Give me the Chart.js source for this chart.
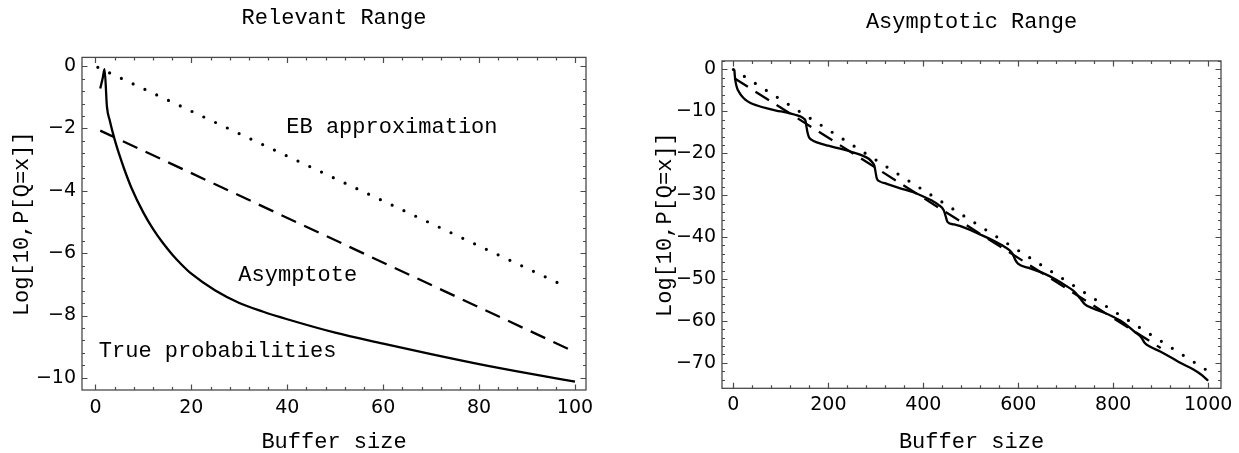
<!DOCTYPE html>
<html>
<head>
<meta charset="utf-8">
<script src="https://cdn.jsdelivr.net/npm/chart.js@4.4.0/dist/chart.umd.min.js"></script>
<style>
  html, body { margin: 0; padding: 0; background: #fff; }
  #wrap { position: relative; width: 1239px; height: 453px; }
  .box { position: absolute; top: 0; height: 453px; }
  #box-left { left: 0; width: 620px; }
  #box-right { left: 620px; width: 619px; }
</style>
</head>
<body>
<div id="wrap">
  <div class="box" id="box-left"><canvas id="chart-left"></canvas></div>
  <div class="box" id="box-right"><canvas id="chart-right"></canvas></div>
</div>
<script>
// ---- Left panel: Relevant Range ----
const relTrueX = [1, 1.5, 1.9, 2.4, 3, 4, 5, 6, 7.5, 10, 12, 14, 16, 18, 20, 25, 30, 35, 40, 50, 60, 70, 80, 90, 100];
const relTrueY = [-0.72, -0.4, -0.1, -1.3, -1.75, -2.35, -2.85, -3.3, -3.9, -4.7, -5.22, -5.66, -6.04, -6.37, -6.66, -7.2, -7.6, -7.88, -8.12, -8.55, -8.9, -9.24, -9.56, -9.85, -10.12];
const relAsymX = [1, 99];
const relAsymY = [-2.07, -9.1];
const relEbX   = [0.5, 98.5];
const relEbY   = [-0.04, -7.1];
const relXTicks = [0, 20, 40, 60, 80, 100];
const relYTicks = [0, -2, -4, -6, -8, -10];
const relNotes  = ['EB approximation', 'Asymptote', 'True probabilities'];
const relNoteX  = [39.8, 29.8, 0.7];
const relNoteY  = [-1.96, -6.72, -9.14];

// ---- Right panel: Asymptotic Range ----
const asyTrueX = [2, 3, 5, 8, 12, 18, 25, 36, 50, 71, 90, 113, 130, 141, 148, 152, 154, 156, 159, 165, 176, 200, 225, 250, 271, 285, 292, 297, 299, 302, 308, 323, 350, 379, 400, 418, 432, 443, 447, 451, 465, 492, 516, 540, 565, 580, 588, 594, 600, 620, 650, 680, 700, 718, 730, 740, 755, 790, 820, 845, 858, 866, 878, 899, 920, 941, 969, 985, 1000];
const asyTrueY = [0, -1.5, -3.2, -4.5, -5.4, -6.4, -7.2, -8.0, -8.6, -9.3, -9.8, -10.3, -10.8, -11.2, -11.7, -12.3, -13.7, -15.0, -16.1, -16.8, -17.4, -18.2, -18.9, -19.7, -20.5, -21.3, -22.1, -23.0, -24.2, -26.0, -26.7, -27.3, -28.3, -29.3, -30.3, -31.3, -32.3, -33.6, -35.0, -36.4, -37.0, -38.0, -39.2, -40.4, -41.9, -43.0, -44.0, -45.5, -46.4, -47.3, -48.5, -50.2, -51.6, -53.0, -54.6, -56.0, -56.9, -58.5, -60.3, -62.6, -63.8, -65.2, -66.2, -67.3, -68.6, -70.0, -71.6, -72.8, -74.3];
const asyAsymX = [2, 900];
const asyAsymY = [-2.1, -66.5];
const asyEbX   = [0, 1000];
const asyEbY   = [0, -72];
const asyXTicks = [0, 200, 400, 600, 800, 1000];
const asyYTicks = [0, -10, -20, -30, -40, -50, -60, -70];

const monoFont = 'Liberation Mono, Courier New, monospace';
const tickFont = 'DejaVu Sans, sans-serif';

function toPoints(xs, ys) {
    return xs.map(function (x, i) { return { x: x, y: ys[i] }; });
}

function minusLabel(v) {
    return v < 0 ? '\u2212' + Math.abs(v) : String(v);
}

/**
 * Frame with inward ticks on all four sides, plus text notes in data coords
 */
const frameTicks = {
    id: 'frameTicks',
    afterDatasetsDraw(chart, args, opts) {
        const ctx = chart.ctx;
        const a   = chart.chartArea;
        const sx  = chart.scales.x;
        const sy  = chart.scales.y;

        ctx.save();
        ctx.strokeStyle = '#4a4a4a';
        ctx.lineWidth   = 1.3;
        ctx.strokeRect(a.left, a.top, a.right - a.left, a.bottom - a.top);

        function steps(scale, step) {
            let out = [];
            let first = Math.ceil(scale.min / step - 1e-9);
            let last  = Math.floor(scale.max / step + 1e-9);
            for (let i = first; i <= last; i++) out.push(i * step);
            return out;
        }

        ctx.lineWidth = 1.2;
        ctx.beginPath();
        [[opts.xMinor, 3], [opts.xMajor, 5.5]].forEach(function (pair) {
            steps(sx, pair[0]).forEach(function (v) {
                let px = Math.round(sx.getPixelForValue(v)) + 0.5;
                ctx.moveTo(px, a.bottom); ctx.lineTo(px, a.bottom - pair[1]);
                ctx.moveTo(px, a.top);    ctx.lineTo(px, a.top + pair[1]);
            });
        });
        [[opts.yMinor, 3], [opts.yMajor, 5.5]].forEach(function (pair) {
            steps(sy, pair[0]).forEach(function (v) {
                let py = Math.round(sy.getPixelForValue(v)) + 0.5;
                ctx.moveTo(a.left, py);  ctx.lineTo(a.left + pair[1], py);
                ctx.moveTo(a.right, py); ctx.lineTo(a.right - pair[1], py);
            });
        });
        ctx.stroke();

        // notes
        if (opts.notes) {
            ctx.fillStyle    = '#000';
            ctx.font         = '22px ' + monoFont;
            ctx.textAlign    = 'left';
            ctx.textBaseline = 'middle';
            opts.notes.forEach(function (t, i) {
                ctx.fillText(t, sx.getPixelForValue(opts.noteX[i]), sy.getPixelForValue(opts.noteY[i]));
            });
        }
        ctx.restore();
    }
};

function makeDatasets(trueX, trueY, asymX, asymY, ebX, ebY) {
    return [
        {
            label: 'True probabilities',
            data: toPoints(trueX, trueY),
            borderColor: '#000',
            borderWidth: 2.3,
            cubicInterpolationMode: 'monotone',
            pointRadius: 0,
            showLine: true
        },
        {
            label: 'Asymptote',
            data: toPoints(asymX, asymY),
            borderColor: '#000',
            borderWidth: 2.3,
            borderDash: [16, 9],
            pointRadius: 0,
            showLine: true
        },
        {
            label: 'EB approximation',
            data: toPoints(ebX, ebY),
            borderColor: '#000',
            borderWidth: 3.2,
            borderDash: [0, 13],
            borderCapStyle: 'round',
            pointRadius: 0,
            showLine: true
        }
    ];
}

function makeChart(id, cfg) {
    return new Chart(document.getElementById(id), {
        type: 'scatter',
        data: { datasets: cfg.datasets },
        options: {
            responsive: true,
            maintainAspectRatio: false,
            animation: false,
            layout: { padding: { left: 0, right: cfg.padRight, top: 0, bottom: 0 } },
            plugins: {
                legend: { display: false },
                tooltip: { enabled: false },
                title: {
                    display: true,
                    text: cfg.title,
                    fullSize: false,
                    color: '#000',
                    font: { family: monoFont, size: 22, weight: 'normal', lineHeight: 1.2 },
                    padding: { top: cfg.titleTop, bottom: cfg.titleBottom }
                },
                frameTicks: cfg.frame
            },
            scales: {
                x: {
                    type: 'linear',
                    min: cfg.xMin,
                    max: cfg.xMax,
                    grid: { display: false, drawTicks: false },
                    border: { display: false },
                    afterBuildTicks: function (s) { s.ticks = cfg.xTicks.map(function (v) { return { value: v }; }); },
                    afterFit: function (s) { s.height = cfg.xHeight; },
                    ticks: {
                        color: '#000',
                        padding: cfg.xTickPad,
                        maxRotation: 0,
                        font: { family: tickFont, size: 19 },
                        callback: minusLabel
                    },
                    title: {
                        display: true,
                        text: 'Buffer size',
                        color: '#000',
                        font: { family: monoFont, size: 22, lineHeight: 1 },
                        padding: { top: 0, bottom: 0 }
                    }
                },
                y: {
                    type: 'linear',
                    min: cfg.yMin,
                    max: cfg.yMax,
                    grid: { display: false, drawTicks: false },
                    border: { display: false },
                    afterBuildTicks: function (s) { s.ticks = cfg.yTicks.map(function (v) { return { value: v }; }); },
                    afterFit: function (s) { s.width = cfg.yWidth; },
                    ticks: {
                        color: '#000',
                        padding: 6,
                        font: { family: tickFont, size: 19 },
                        callback: minusLabel
                    },
                    title: {
                        display: true,
                        text: 'Log[10,P[Q=x]]',
                        color: '#000',
                        font: { family: monoFont, size: 22, lineHeight: 1.2 },
                        padding: { top: cfg.yTitleTop, bottom: 0 }
                    }
                }
            }
        },
        plugins: [frameTicks]
    });
}

makeChart('chart-left', {
    title: 'Relevant Range',
    datasets: makeDatasets(relTrueX, relTrueY, relAsymX, relAsymY, relEbX, relEbY),
    xMin: -2.8, xMax: 102.3, yMin: -10.39, yMax: 0.28,
    xTicks: relXTicks, yTicks: relYTicks,
    padRight: 34, titleTop: 5, titleBottom: 26,
    xHeight: 63, xTickPad: 7, yWidth: 82, yTitleTop: 9,
    frame: { xMajor: 20, xMinor: 4, yMajor: 2, yMinor: 0.4,
             notes: relNotes, noteX: relNoteX, noteY: relNoteY }
});

makeChart('chart-right', {
    title: 'Asymptotic Range',
    datasets: makeDatasets(asyTrueX, asyTrueY, asyAsymX, asyAsymY, asyEbX, asyEbY),
    xMin: -24, xMax: 1027, yMin: -76.1, yMax: 2.05,
    xTicks: asyXTicks, yTicks: asyYTicks,
    padRight: 18, titleTop: 8.5, titleBottom: 26,
    xHeight: 64.7, xTickPad: 5.5, yWidth: 102, yTitleTop: 32,
    frame: { xMajor: 200, xMinor: 40, yMajor: 10, yMinor: 2 }
});
</script>
</body>
</html>
